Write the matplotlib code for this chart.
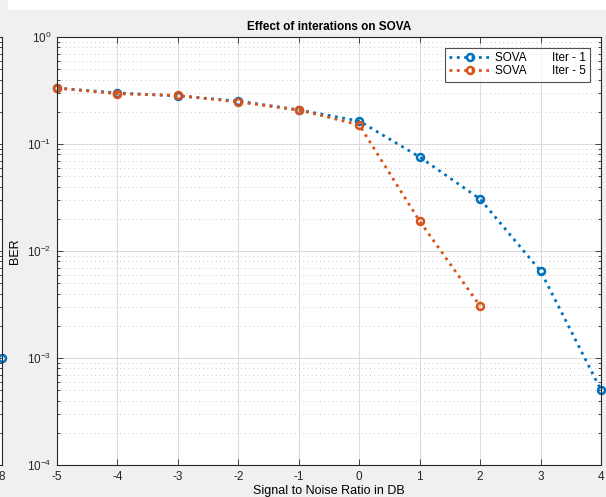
import numpy as np
import matplotlib
matplotlib.use("Agg")
import matplotlib.pyplot as plt
from matplotlib.patches import Rectangle
from matplotlib.ticker import LogLocator, NullFormatter

plt.rcParams['font.family'] = ['Liberation Sans', 'DejaVu Sans']
plt.rcParams['mathtext.fontset'] = 'custom'
plt.rcParams['mathtext.rm'] = 'Liberation Sans'
plt.rcParams['mathtext.it'] = 'Liberation Sans'
plt.rcParams['axes.unicode_minus'] = False

# SNR points and BER for the two iteration counts
snr = [-5, -4, -3, -2, -1, 0, 1, 2, 3, 4]
ber_iter1 = [0.333, 0.300, 0.281, 0.252, 0.208, 0.164, 0.0756, 0.0306, 0.0065, 0.000502]
snr_iter5 = [-5, -4, -3, -2, -1, 0, 1, 2]
ber_iter5 = [0.333, 0.295, 0.285, 0.247, 0.208, 0.151, 0.019, 0.00306]

# neighbouring panel (only its right edge shows)
side_x = [8]
side_ber = [1e-3]

blue = '#0072BD'
orange = '#D95319'
spine_c = '#262626'

W, H = 606, 497
fig = plt.figure(figsize=(W / 100, H / 100), dpi=100, facecolor='#f0f0f0')
fig.patches.append(Rectangle((8 / W, 1 - 10 / H), 1, 10 / H, transform=fig.transFigure,
                             facecolor='white', edgecolor='none', zorder=-1))


def style_axes(a):
    a.set_yscale('log')
    a.set_ylim(1e-4, 1)
    a.yaxis.set_major_locator(LogLocator(base=10, numticks=10))
    a.yaxis.set_minor_locator(LogLocator(base=10, subs=np.arange(2, 10), numticks=10))
    a.yaxis.set_minor_formatter(NullFormatter())
    a.tick_params(which='both', direction='in', top=True, right=True,
                  colors=spine_c, labelsize=8.5, width=0.6)
    a.tick_params(which='major', length=4, pad=4)
    a.tick_params(which='minor', length=2.5)
    for s in a.spines.values():
        s.set_color(spine_c)
        s.set_linewidth(0.8)


# partial panel at the far left
ax0 = fig.add_axes([(1.5 - 300) / W, 32 / H, 300 / W, 428 / H])
style_axes(ax0)
ax0.set_xlim(0, 8)
ax0.set_xticks([8])
ax0.set_yticklabels([])
ax0.plot(side_x, side_ber, 'o', color=blue, ms=5, mfc='none', mew=1.8, clip_on=False)

ax = fig.add_axes([57 / W, 32 / H, 544 / W, 428 / H])
style_axes(ax)
ax.set_xlim(-5, 4)
ax.set_xticks(range(-5, 5))

ax.grid(which='major', color='#dcdcdc', linestyle='-', linewidth=0.8)
ax.grid(which='minor', axis='y', color='#b8b8b8', linestyle=(0, (1, 4)), linewidth=0.6)
ax.set_axisbelow(True)

ax.plot(snr, ber_iter1, ':o', color=blue, lw=2, ms=5, mfc='none', mew=1.8,
        clip_on=False, label='SOVA        Iter - 1')
ax.plot(snr_iter5, ber_iter5, ':o', color=orange, lw=2, ms=5, mfc='none', mew=1.8,
        clip_on=False, label='SOVA        Iter - 5')

leg = ax.legend(loc='upper right', bbox_to_anchor=(0.98, 0.974), fontsize=8.5,
                frameon=True, fancybox=False, edgecolor=spine_c, handlelength=3.6,
                handletextpad=0.3, borderpad=0.35, labelspacing=0.1, borderaxespad=0)
leg.get_frame().set_linewidth(0.8)

ax.set_title('Effect of interations on SOVA', fontsize=8.5, fontweight='bold', pad=5)
ax.set_xlabel('Signal to Noise Ratio in DB', fontsize=9, labelpad=2)
ax.set_ylabel('BER', fontsize=9, labelpad=4)

fig.savefig('out.png', dpi=100, facecolor=fig.get_facecolor())
